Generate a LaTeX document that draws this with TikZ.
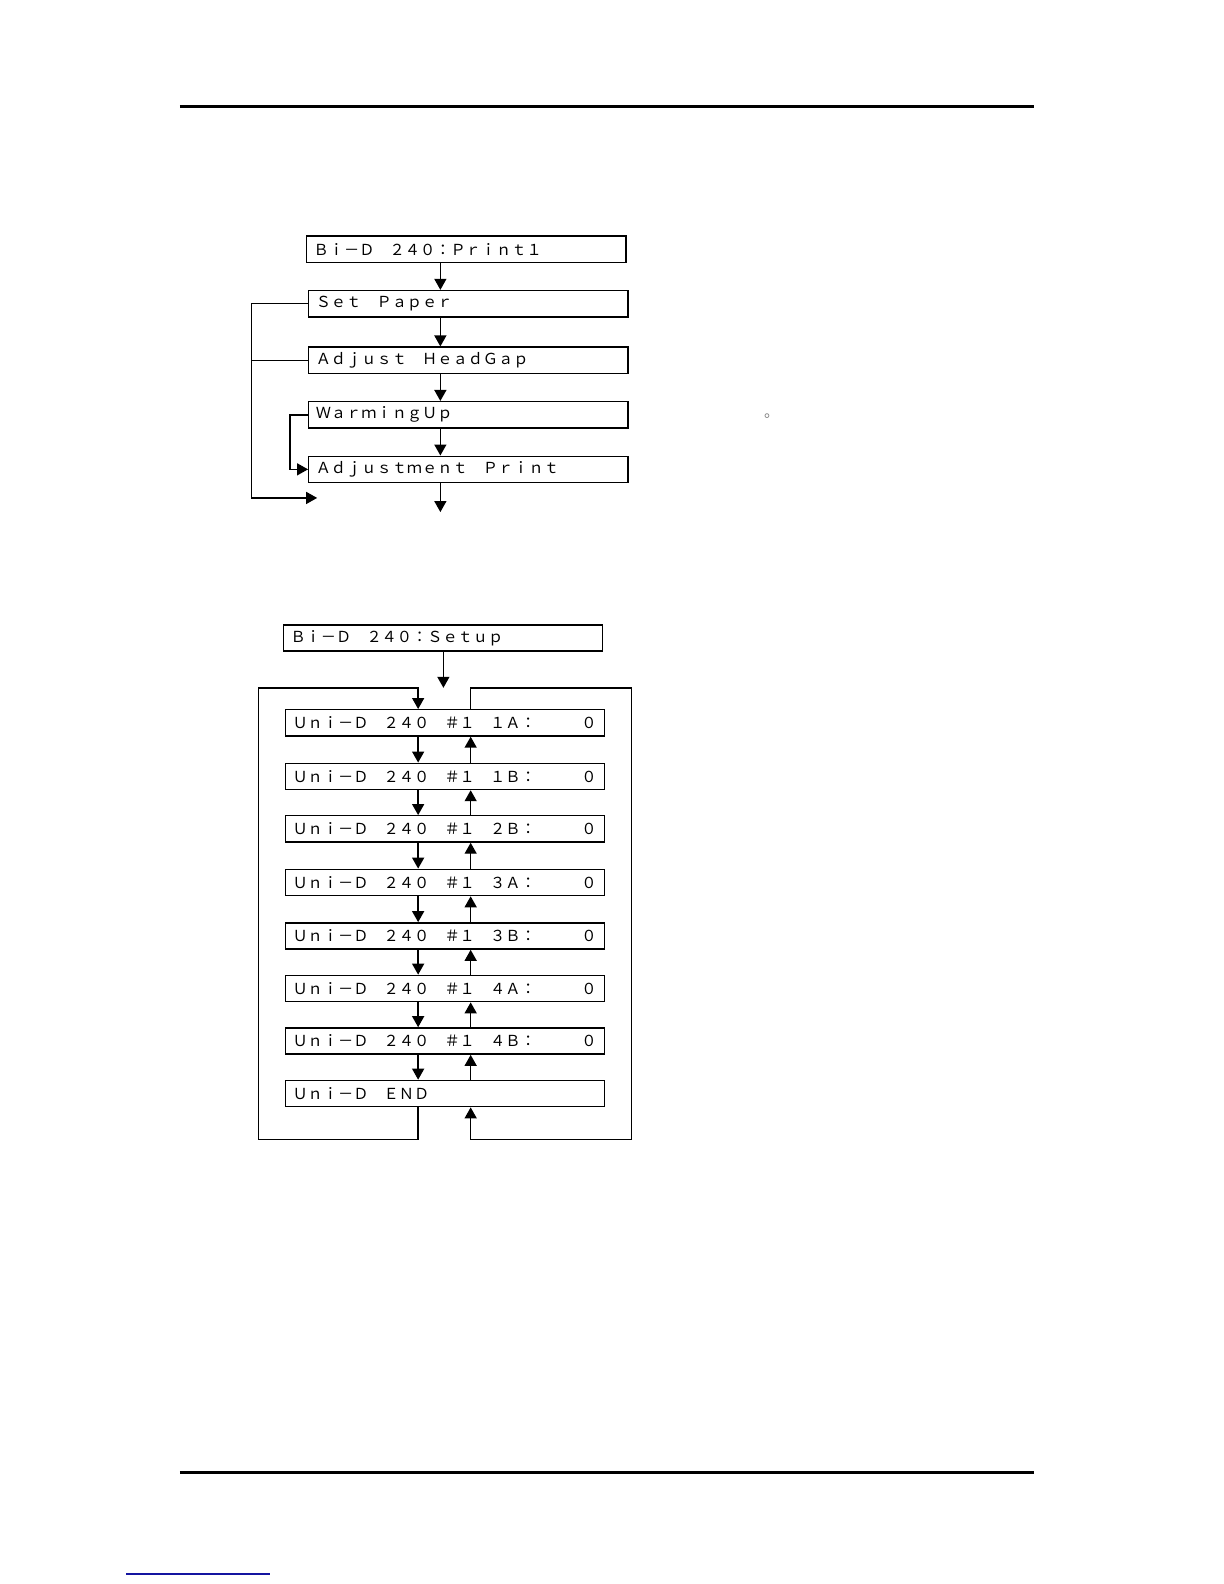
\documentclass[tikz,border=0pt]{standalone}
\usepackage{fontspec}
\newfontfamily\lcdfont{Noto Sans CJK JP}
\usetikzlibrary{arrows.meta}
\definecolor{linkblue}{RGB}{20,20,160}
\tikzset{
  lcd/.style={draw, line width=0.7pt, anchor=north west, minimum height=13.13pt,
    text width=152.6pt, inner xsep=3.5pt, inner ysep=0pt, align=left,
    font=\lcdfont\fontsize{7.6}{7.6}\selectfont},
  flow/.style={line width=0.7pt, -{Triangle[length=5.5pt,width=6pt]}},
  wire/.style={line width=0.7pt},
}
\begin{document}
\begin{tikzpicture}[x=0.505pt,y=-0.505pt]
\useasboundingbox (0pt,0pt) rectangle (612pt,-792pt);
% page rules
\draw [line width=1.5pt] (178,105) -- (1024,105);
\draw [line width=1.5pt] (178,1458) -- (1024,1458);
\draw [linkblue, line width=1pt] (125,1558) -- (267,1558);
\node [font=\lcdfont\fontsize{7.6}{7.6}\selectfont, text=gray, inner sep=0pt] (dot) at (764,412) {。};
% print menu
\node [lcd] (print) at (303,233) {Ｂｉ－Ｄ　２４０：Ｐｒｉｎｔ１};
\node [lcd] (paper) at (305,287) {Ｓｅｔ　Ｐａｐｅｒ};
\node [lcd] (gap) at (305,343) {Ａｄｊｕｓｔ　ＨｅａｄＧａｐ};
\node [lcd] (warm) at (305,397) {ＷａｒｍｉｎｇＵｐ};
\node [lcd] (adj) at (305,451) {Ａｄｊｕｓｔｍｅｎｔ　Ｐｒｉｎｔ};
\coordinate (pcol) at (436,0);
\coordinate (pout) at (436,507);
\coordinate (lbot) at (249,493);
\coordinate (lend) at (314,493);
\coordinate (wcol) at (287,0);
\draw [flow] (print.south -| pcol) -- (paper.north -| pcol);
\draw [flow] (paper.south -| pcol) -- (gap.north -| pcol);
\draw [flow] (gap.south -| pcol) -- (warm.north -| pcol);
\draw [flow] (warm.south -| pcol) -- (adj.north -| pcol);
\draw [flow] (adj.south -| pcol) -- (pout);
\draw [flow] (paper.west) -| (lbot) -- (lend);
\draw [wire] (gap.west) -- (gap.west -| lbot);
\draw [flow] (warm.west) -| (wcol |- adj.west) -- (adj.west);
% setup menu
\node [lcd] (setup) at (280,618) {Ｂｉ－Ｄ　２４０：Ｓｅｔｕｐ};
\node [lcd] (u1a) at (282,702) {Ｕｎｉ－Ｄ　２４０　＃１　１Ａ：　　　０};
\node [lcd] (u1b) at (282,755) {Ｕｎｉ－Ｄ　２４０　＃１　１Ｂ：　　　０};
\node [lcd] (u2b) at (282,807) {Ｕｎｉ－Ｄ　２４０　＃１　２Ｂ：　　　０};
\node [lcd] (u3a) at (282,860) {Ｕｎｉ－Ｄ　２４０　＃１　３Ａ：　　　０};
\node [lcd] (u3b) at (282,913) {Ｕｎｉ－Ｄ　２４０　＃１　３Ｂ：　　　０};
\node [lcd] (u4a) at (282,965) {Ｕｎｉ－Ｄ　２４０　＃１　４Ａ：　　　０};
\node [lcd] (u4b) at (282,1017) {Ｕｎｉ－Ｄ　２４０　＃１　４Ｂ：　　　０};
\node [lcd] (uend) at (282,1069) {Ｕｎｉ－Ｄ　ＥＮＤ};
\coordinate (scol) at (439,681);
\coordinate (dcol) at (414,0);
\coordinate (ucol) at (466,0);
\coordinate (ltop) at (256,681);
\coordinate (lbase) at (256,1128);
\coordinate (rtop) at (625,681);
\coordinate (rbase) at (625,1128);
\draw [flow] (setup.south -| scol) -- (scol);
\draw [flow] (u1a.south -| dcol) -- (u1b.north -| dcol);
\draw [flow] (u1b.south -| dcol) -- (u2b.north -| dcol);
\draw [flow] (u2b.south -| dcol) -- (u3a.north -| dcol);
\draw [flow] (u3a.south -| dcol) -- (u3b.north -| dcol);
\draw [flow] (u3b.south -| dcol) -- (u4a.north -| dcol);
\draw [flow] (u4a.south -| dcol) -- (u4b.north -| dcol);
\draw [flow] (u4b.south -| dcol) -- (uend.north -| dcol);
\draw [flow] (u1b.north -| ucol) -- (u1a.south -| ucol);
\draw [flow] (u2b.north -| ucol) -- (u1b.south -| ucol);
\draw [flow] (u3a.north -| ucol) -- (u2b.south -| ucol);
\draw [flow] (u3b.north -| ucol) -- (u3a.south -| ucol);
\draw [flow] (u4a.north -| ucol) -- (u3b.south -| ucol);
\draw [flow] (u4b.north -| ucol) -- (u4a.south -| ucol);
\draw [flow] (uend.north -| ucol) -- (u4b.south -| ucol);
\draw [flow] (uend.south -| dcol) |- (lbase) -- (ltop) -| (u1a.north -| dcol);
\draw [flow] (u1a.north -| ucol) |- (rtop) -- (rbase) -| (uend.south -| ucol);
\end{tikzpicture}
\end{document}
